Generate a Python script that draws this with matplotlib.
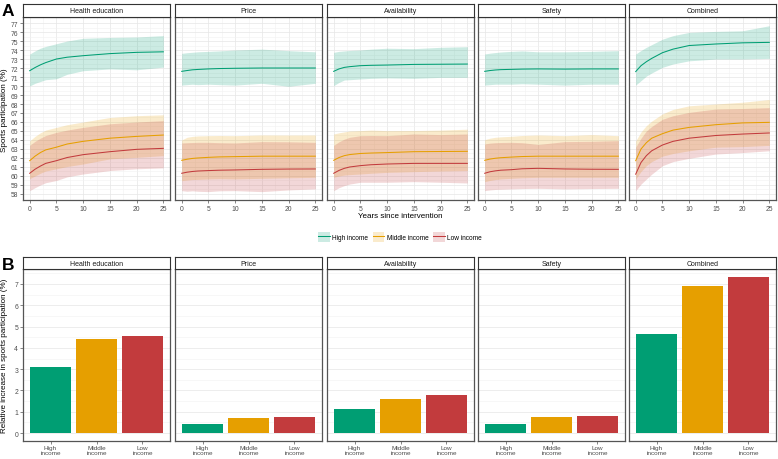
import numpy as np
import matplotlib
matplotlib.use("Agg")
import matplotlib.pyplot as plt
from matplotlib.patches import Rectangle
from matplotlib.lines import Line2D

plt.rcParams["font.family"] = ["Liberation Sans", "DejaVu Sans"]

# ---- data ----
panels = ["Health education", "Price", "Availability", "Safety", "Combined"]
incomes = ["High income", "Middle income", "Low income"]
years = [0, 1, 2, 3, 5, 7, 10, 15, 20, 25]

# each list: [high, middle, low]
health_mean = [[71.7, 72.05, 72.35, 72.6, 73.0, 73.2, 73.37, 73.6, 73.74, 73.8],
               [61.7, 62.2, 62.6, 62.9, 63.2, 63.55, 63.85, 64.2, 64.4, 64.55],
               [60.3, 60.75, 61.1, 61.4, 61.7, 62.05, 62.37, 62.7, 62.96, 63.07]]
health_hi = [[73.55, 73.9, 74.2, 74.4, 74.7, 75.0, 75.3, 75.4, 75.45, 75.6],
             [63.9, 64.4, 64.8, 65.1, 65.4, 65.7, 66.0, 66.5, 66.7, 66.8],
             [63.4, 63.85, 64.2, 64.5, 64.85, 65.1, 65.4, 65.8, 66.0, 66.15]]
health_lo = [[70.0, 70.3, 70.5, 70.7, 70.8, 71.3, 71.7, 71.9, 71.8, 72.1],
             [59.7, 60.0, 60.3, 60.55, 60.8, 61.05, 61.33, 61.9, 62.07, 62.26],
             [58.37, 58.7, 59.0, 59.25, 59.5, 59.9, 60.22, 60.6, 60.8, 60.9]]

price_mean = [[71.63, 71.72, 71.8, 71.84, 71.9, 71.94, 71.97, 72.0, 72.0, 72.0],
              [61.74, 61.86, 61.95, 62.0, 62.07, 62.12, 62.15, 62.2, 62.2, 62.2],
              [60.3, 60.42, 60.5, 60.55, 60.6, 60.64, 60.67, 60.74, 60.77, 60.78]]
price_hi = [[73.63, 73.7, 73.75, 73.8, 73.85, 73.9, 74.0, 74.1, 73.93, 73.8],
            [64.0, 64.3, 64.4, 64.45, 64.48, 64.5, 64.48, 64.56, 64.55, 64.56],
            [63.67, 63.7, 63.72, 63.74, 63.74, 63.7, 63.67, 63.82, 63.8, 63.74]]
price_lo = [[70.1, 70.15, 70.2, 70.15, 70.2, 70.15, 70.1, 70.3, 69.97, 70.3],
            [59.48, 59.55, 59.6, 59.62, 59.67, 59.7, 59.67, 59.74, 59.8, 59.85],
            [58.37, 58.3, 58.35, 58.3, 58.26, 58.35, 58.37, 58.26, 58.45, 58.56]]

avail_mean = [[71.63, 71.9, 72.07, 72.15, 72.26, 72.3, 72.33, 72.4, 72.42, 72.44],
              [61.74, 62.05, 62.26, 62.38, 62.5, 62.55, 62.6, 62.7, 62.72, 62.74],
              [60.3, 60.62, 60.85, 61.0, 61.15, 61.25, 61.33, 61.4, 61.4, 61.4]]
avail_hi = [[73.74, 73.85, 73.9, 73.95, 74.0, 74.1, 74.2, 74.15, 74.3, 74.37],
            [64.67, 64.8, 64.9, 65.0, 65.04, 65.1, 65.04, 65.05, 65.1, 65.2],
            [63.4, 63.8, 64.1, 64.3, 64.48, 64.5, 64.48, 64.67, 64.6, 64.67]]
avail_lo = [[70.04, 70.4, 70.67, 70.7, 70.78, 70.85, 70.9, 70.85, 70.96, 70.96],
            [59.85, 60.0, 60.1, 60.15, 60.22, 60.3, 60.4, 60.48, 60.55, 60.6],
            [58.37, 58.7, 58.93, 59.1, 59.3, 59.3, 59.3, 59.37, 59.3, 59.22]]

safety_mean = [[71.63, 71.72, 71.78, 71.82, 71.85, 71.88, 71.9, 71.88, 71.9, 71.9],
               [61.74, 61.88, 61.97, 62.03, 62.1, 62.16, 62.2, 62.2, 62.2, 62.2],
               [60.3, 60.47, 60.57, 60.64, 60.7, 60.8, 60.85, 60.78, 60.75, 60.74]]
safety_hi = [[73.56, 73.65, 73.72, 73.78, 73.85, 73.9, 73.8, 73.8, 73.85, 73.93],
             [64.04, 64.2, 64.3, 64.35, 64.41, 64.5, 64.56, 64.48, 64.6, 64.48],
             [63.56, 63.65, 63.7, 63.72, 63.74, 63.7, 63.5, 63.82, 63.85, 63.93]]
safety_lo = [[70.1, 70.15, 70.2, 70.2, 70.2, 70.25, 70.2, 70.1, 70.2, 70.2],
             [59.37, 59.5, 59.6, 59.67, 59.74, 59.8, 59.85, 59.85, 59.85, 59.85],
             [58.37, 58.45, 58.5, 58.52, 58.56, 58.6, 58.63, 58.56, 58.6, 58.63]]

combined_mean = [[71.6, 72.26, 72.7, 73.07, 73.7, 74.1, 74.5, 74.67, 74.8, 74.85],
                 [61.7, 63.0, 63.7, 64.2, 64.7, 65.1, 65.4, 65.7, 65.9, 65.96],
                 [60.2, 61.5, 62.26, 62.8, 63.44, 63.85, 64.2, 64.5, 64.66, 64.78]]
combined_hi = [[73.55, 73.95, 74.3, 74.6, 75.2, 75.6, 75.96, 76.07, 76.14, 76.7],
               [63.9, 64.9, 65.6, 66.1, 66.9, 67.4, 67.8, 68.0, 68.2, 68.5],
               [63.2, 64.2, 65.0, 65.5, 66.3, 66.7, 67.07, 67.44, 67.5, 67.6]]
combined_lo = [[70.1, 70.6, 71.1, 71.45, 72.07, 72.45, 72.8, 73.0, 73.0, 73.07],
               [59.66, 60.5, 61.14, 61.6, 62.2, 62.5, 62.8, 63.2, 63.26, 63.4],
               [58.37, 59.1, 59.66, 60.2, 61.14, 61.6, 61.96, 62.44, 62.6, 62.8]]

# relative increase in participation (%), [high, middle, low]
health_bars = [3.1, 4.41, 4.56]
price_bars = [0.41, 0.69, 0.77]
avail_bars = [1.14, 1.61, 1.81]
safety_bars = [0.41, 0.76, 0.80]
combined_bars = [4.66, 6.9, 7.31]
bar_labels = ["High\nincome", "Middle\nincome", "Low\nincome"]

colors = ["#009E73", "#E69F00", "#C23B3D"]

series = [(health_mean, health_lo, health_hi),
          (price_mean, price_lo, price_hi),
          (avail_mean, avail_lo, avail_hi),
          (safety_mean, safety_lo, safety_hi),
          (combined_mean, combined_lo, combined_hi)]
bars = [health_bars, price_bars, avail_bars, safety_bars, combined_bars]

W, H = 778, 460
fig = plt.figure(figsize=(W / 100, H / 100), dpi=100)

lefts = [23, 175, 327, 478, 629]
pw = 147


def px_axes(x0, y0, x1, y1):
    return fig.add_axes([x0 / W, 1 - y1 / H, (x1 - x0) / W, (y1 - y0) / H])


def style(ax):
    for s in ax.spines.values():
        s.set_color("#555555")
        s.set_linewidth(0.9)
    ax.tick_params(length=2, width=0.5, color="#555555", labelsize=4.9,
                   labelcolor="#4d4d4d", pad=1.5)
    ax.set_axisbelow(True)


def strip(x0, y0, y1, text):
    sa = px_axes(x0, y0, x0 + pw, y1)
    sa.set_xticks([])
    sa.set_yticks([])
    for s in sa.spines.values():
        s.set_color("#333333")
        s.set_linewidth(0.8)
    sa.text(0.5, 0.5, text, ha="center", va="center", fontsize=5.0,
            color="#1a1a1a", transform=sa.transAxes)


# ---- panel A ----
for i, name in enumerate(panels):
    ax = px_axes(lefts[i], 18, lefts[i] + pw, 201)
    style(ax)
    m, lo, hi = series[i]
    for k in range(3):
        ax.fill_between(years, lo[k], hi[k], color=colors[k], alpha=0.2, lw=0)
    for k in range(3):
        ax.plot(years, m[k], color=colors[k], lw=0.75)
    ax.set_xlim(-1.25, 26.25)
    ax.set_ylim(57.33, 77.67)
    ax.set_xticks(range(0, 26, 5))
    ax.set_xticks(np.arange(2.5, 25, 5), minor=True)
    ax.set_yticks(range(58, 78))
    ax.set_yticks(np.arange(58.5, 77, 1), minor=True)
    ax.tick_params(which="minor", length=0)
    ax.grid(which="major", color="#e6e6e6", lw=0.5)
    ax.grid(which="minor", color="#f2f2f2", lw=0.4)
    if i > 0:
        ax.tick_params(axis="y", labelleft=False, length=0)
    strip(lefts[i], 5, 18, name)

fig.text(5 / W, 1 - 110 / H, "Sports participation (%)", rotation=90,
         ha="center", va="center", fontsize=5.8)
fig.text(400 / W, 1 - 217 / H, "Years since intervention", ha="center",
         va="center", fontsize=5.8)
fig.text(2 / W, 1 - 11 / H, "A", fontsize=12.5, fontweight="bold", va="center")

# legend
handles = []
for k in range(3):
    handles.append((Rectangle((0, 0), 1, 1, color=colors[k], alpha=0.2, lw=0),
                    Line2D([], [], color=colors[k], lw=0.75)))
fig.legend(handles, incomes, loc="center", bbox_to_anchor=(400 / W, 1 - 238 / H),
           ncol=3, frameon=False, fontsize=4.7, handlelength=1.75,
           handleheight=1.75, handletextpad=0.4, columnspacing=0.7)

# ---- panel B ----
for i, name in enumerate(panels):
    ax = px_axes(lefts[i], 270, lefts[i] + pw, 442)
    style(ax)
    ax.bar(range(3), bars[i], width=0.9, color=colors)
    ax.set_xlim(-0.6, 2.6)
    ax.set_ylim(-0.37, 7.7)
    ax.set_xticks(range(3))
    ax.set_xticklabels(bar_labels, linespacing=0.85, fontsize=4.6)
    ax.tick_params(axis="x", pad=1)
    ax.set_yticks(range(0, 8))
    ax.set_yticks(np.arange(0.5, 7.6, 1), minor=True)
    ax.tick_params(which="minor", length=0)
    ax.grid(axis="y", which="major", color="#e6e6e6", lw=0.5)
    ax.grid(axis="y", which="minor", color="#f2f2f2", lw=0.4)
    if i > 0:
        ax.tick_params(axis="y", labelleft=False, length=0)
    strip(lefts[i], 258, 270, name)

fig.text(5 / W, 1 - 356 / H, "Relative increase in sports participation (%)",
         rotation=90, ha="center", va="center", fontsize=5.8)
fig.text(2 / W, 1 - 266 / H, "B", fontsize=12.5, fontweight="bold", va="center")

fig.savefig("out.png", dpi=100)
